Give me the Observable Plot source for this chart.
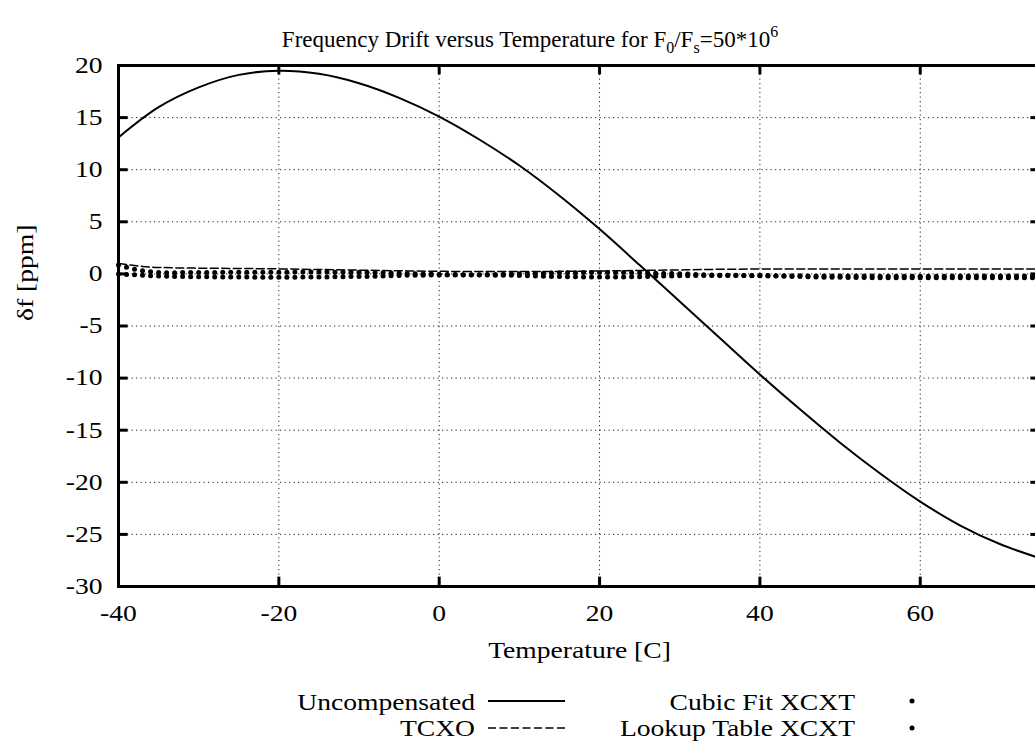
<!DOCTYPE html>
<html><head><meta charset="utf-8">
<script src="https://cdn.jsdelivr.net/npm/d3@7"></script>
<script src="https://cdn.jsdelivr.net/npm/@observablehq/plot@0.6"></script>
<style>
body{margin:0;background:#fff;}
#wrap{position:relative;width:1035px;height:745px;overflow:hidden;background:#fff;font-family:"Liberation Serif","Times New Roman",serif;}
#wrap > svg{position:absolute;left:0;}
</style></head><body><div id="wrap"></div>
<script>
// ---- data ----
const xTicks = [-40, -20, 0, 20, 40, 60];
const yTicks = [-30, -25, -20, -15, -10, -5, 0, 5, 10, 15, 20];

const uncompTemps = [-40,-35,-30,-25,-20,-15,-10,-5,0,5,10,15,20,25,30,35,40,45,50,55,60,65,70,75];
const uncompensated = [13.1,16.0,17.9,19.1,19.5,19.2,18.3,16.9,15.1,12.9,10.4,7.5,4.3,0.85,-2.65,-6.15,-9.65,-13.0,-16.2,-19.15,-21.85,-24.15,-25.95,-27.3];

const tcxoTemps = [-40,-39,-38,-37,-36,-35,-30,-25,-20,-15,-10,-5,0,5,10,15,20,25,30,35,40,45,50,55,60,65,70,75];
const tcxo = [1.00,0.90,0.80,0.72,0.66,0.62,0.55,0.52,0.48,0.42,0.36,0.30,0.25,0.22,0.22,0.24,0.28,0.33,0.38,0.44,0.47,0.48,0.48,0.48,0.48,0.48,0.48,0.48];

const xcxtTemps = d3.range(-40, 76); // one sample per degree
const cubicFit = [
  0.85,0.65,0.45,0.30,0.20,0.14,0.12,0.12,0.13,0.13,
  0.14,0.14,0.14,0.15,0.15,0.15,0.16,0.16,0.16,0.17,
  0.17,0.17,0.18,0.18,0.18,0.18,0.18,0.17,0.17,0.16,
  0.15,0.14,0.12,0.10,0.08,0.06,0.04,0.02,0.00,-0.02,
  -0.04,-0.05,-0.06,-0.07,-0.07,-0.07,-0.06,-0.05,-0.03,-0.01,
  0.01,0.03,0.05,0.07,0.09,0.10,0.11,0.12,0.13,0.13,
  0.14,0.14,0.14,0.13,0.12,0.11,0.09,0.07,0.05,0.03,
  0.01,-0.02,-0.05,-0.08,-0.10,-0.12,-0.13,-0.14,-0.15,-0.15,
  -0.16,-0.16,-0.17,-0.17,-0.18,-0.18,-0.19,-0.19,-0.20,-0.20,
  -0.20,-0.21,-0.21,-0.21,-0.21,-0.22,-0.22,-0.22,-0.22,-0.22,
  -0.22,-0.22,-0.22,-0.22,-0.21,-0.21,-0.21,-0.21,-0.20,-0.20,
  -0.20,-0.20,-0.19,-0.19,-0.19,-0.19
];
const lookupTable = [
  -0.02,-0.05,-0.09,-0.13,-0.17,-0.20,-0.23,-0.25,-0.26,-0.27,
  -0.28,-0.28,-0.29,-0.29,-0.30,-0.30,-0.30,-0.31,-0.31,-0.31,
  -0.31,-0.31,-0.31,-0.30,-0.30,-0.30,-0.29,-0.28,-0.27,-0.26,
  -0.25,-0.24,-0.22,-0.20,-0.18,-0.16,-0.14,-0.13,-0.12,-0.11,
  -0.11,-0.10,-0.10,-0.10,-0.10,-0.11,-0.11,-0.12,-0.13,-0.14,
  -0.16,-0.18,-0.20,-0.22,-0.24,-0.26,-0.27,-0.28,-0.29,-0.30,
  -0.30,-0.30,-0.30,-0.29,-0.28,-0.27,-0.25,-0.23,-0.21,-0.19,
  -0.18,-0.17,-0.16,-0.16,-0.15,-0.15,-0.15,-0.16,-0.16,-0.17,
  -0.18,-0.19,-0.20,-0.22,-0.24,-0.26,-0.28,-0.30,-0.31,-0.32,
  -0.33,-0.34,-0.35,-0.35,-0.36,-0.36,-0.37,-0.37,-0.37,-0.38,
  -0.38,-0.38,-0.38,-0.38,-0.38,-0.38,-0.38,-0.37,-0.37,-0.37,
  -0.37,-0.37,-0.36,-0.36,-0.36,-0.36
];

const legendLeft = ["Uncompensated", "TCXO"];
const legendRight = ["Cubic Fit XCXT", "Lookup Table XCXT"];

// ---- build ----
const FONT = "Liberation Serif";
const STRETCH = 1.2;
const uncompData = uncompTemps.map((t, i) => ({t, v: uncompensated[i]}));
const tcxoData = tcxoTemps.map((t, i) => ({t, v: tcxo[i]}));
const cubicData = xcxtTemps.map((t, i) => ({t, v: cubicFit[i]}));
const lookupData = xcxtTemps.map((t, i) => ({t, v: lookupTable[i]}));

const wrap = document.getElementById("wrap");
const NS = "http://www.w3.org/2000/svg";

// Title
const tsvg = document.createElementNS(NS, "svg");
tsvg.setAttribute("width", 1035); tsvg.setAttribute("height", 60);
tsvg.style.top = "0px";
tsvg.innerHTML = `<text transform="translate(530,47)" text-anchor="middle" font-family="${FONT}" font-size="23" fill="#000">Frequency Drift versus Temperature for F<tspan font-size="16" dy="6">0</tspan><tspan dy="-6">/F</tspan><tspan font-size="16" dy="6">s</tspan><tspan dy="-6">=50*10</tspan><tspan font-size="16" dy="-10">6</tspan></text>`;
wrap.appendChild(tsvg);

// Chart
const chart = Plot.plot({
  width: 1035,
  height: 636,
  marginTop: 21,
  marginBottom: 94,
  marginLeft: 118,
  marginRight: -5,
  style: {fontFamily: FONT, fontSize: "23px", color: "#000", background: "transparent"},
  x: {domain: [-40, 75], ticks: xTicks, tickSize: 0, tickPadding: 18, tickFormat: d => String(d), label: null},
  y: {domain: [-30, 20], ticks: yTicks, tickSize: 0, tickPadding: 16, tickFormat: d => String(d), label: null},
  marks: [
    Plot.ruleX(xTicks.filter(d => d > -40), {stroke: "#222", strokeWidth: 1, strokeDasharray: "1.2,3.3"}),
    Plot.ruleY(yTicks.filter(d => d > -30 && d < 20), {stroke: "#222", strokeWidth: 1, strokeDasharray: "1.2,3.3"}),
    Plot.line(tcxoData, {x: "t", y: "v", stroke: "#000", strokeWidth: 1.5, strokeDasharray: "8,3.5", curve: "monotone-x"}),
    Plot.dot(cubicData, {x: "t", y: "v", r: 2.5, fill: "#000", stroke: "none"}),
    Plot.dot(lookupData, {x: "t", y: "v", r: 2.5, fill: "#000", stroke: "none"}),
    Plot.line(uncompData, {x: "t", y: "v", stroke: "#000", strokeWidth: 2, curve: "catmull-rom"}),
    Plot.frame({stroke: "#000", strokeWidth: 3}),
    Plot.ruleX(xTicks, {y1: -30, y2: -29.1, stroke: "#000", strokeWidth: 3}),
    Plot.ruleX(xTicks, {y1: 20, y2: 19.1, stroke: "#000", strokeWidth: 3}),
    Plot.ruleY(yTicks, {x1: -40, x2: -38.8, stroke: "#000", strokeWidth: 3}),
    Plot.ruleY(yTicks, {x1: 75, x2: 73.8, stroke: "#000", strokeWidth: 3}),
    Plot.text(["Temperature [C]"], {text: d => d, frameAnchor: "bottom", dy: 71, fontSize: 23, fill: "#000"}),
    Plot.text(["δf [ppm]"], {text: d => d, frameAnchor: "left", dx: -93, dy: -5, rotate: -90, fontSize: 23, fill: "#000"})
  ]
});
chart.style.top = "44px";
wrap.appendChild(chart);

// Legend
const lsvg = document.createElementNS(NS, "svg");
lsvg.setAttribute("width", 1035); lsvg.setAttribute("height", 65);
lsvg.style.top = "680px";
const rows = [30, 56], mids = [21, 48];
let lh = "";
legendLeft.forEach((s, i) => {
  lh += `<text transform="translate(475,${rows[i]}) scale(${STRETCH},1)" text-anchor="end" font-family="${FONT}" font-size="23" fill="#000">${s}</text>`;
});
legendRight.forEach((s, i) => {
  lh += `<text transform="translate(855,${rows[i]}) scale(${STRETCH},1)" text-anchor="end" font-family="${FONT}" font-size="23" fill="#000">${s}</text>`;
  lh += `<circle cx="912" cy="${mids[i]}" r="2.5" fill="#000"/>`;
});
lh += `<line x1="488" x2="565" y1="${mids[0]}" y2="${mids[0]}" stroke="#000" stroke-width="2"/>`;
lh += `<line x1="488" x2="565" y1="${mids[1]}" y2="${mids[1]}" stroke="#000" stroke-width="1.5" stroke-dasharray="8,3.5"/>`;
lsvg.innerHTML = lh;
wrap.appendChild(lsvg);

// stretch chart texts horizontally (wide serif look of the original); keep em offsets intact
chart.querySelectorAll("text").forEach(t => {
  const xa = t.getAttribute("x");
  let pre = "";
  if (xa && !/em$/.test(xa) && parseFloat(xa)) { pre = ` translate(${parseFloat(xa)},0)`; t.setAttribute("x", 0); }
  const tr = t.getAttribute("transform") || "";
  t.setAttribute("transform", `${tr}${pre} scale(${STRETCH},1)`);
});
</script></body></html>
